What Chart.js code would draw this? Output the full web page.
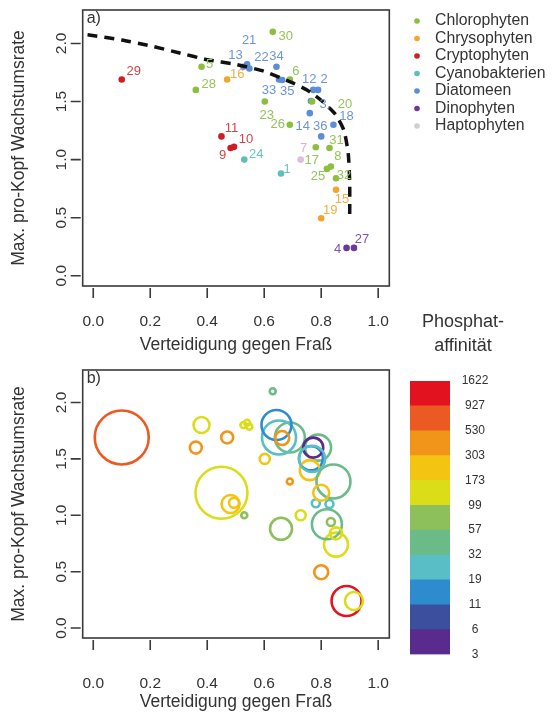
<!DOCTYPE html>
<html><head><meta charset="utf-8">
<script src="https://cdn.jsdelivr.net/npm/chart.js@4/dist/chart.umd.min.js"></script>
<style>
html,body{margin:0;padding:0;background:#fff;width:552px;height:713px;overflow:hidden}
canvas{position:absolute;left:0;top:0}
</style></head><body>
<canvas id="ca" width="552" height="713"></canvas>
<canvas id="cb" width="552" height="713"></canvas>
<canvas id="cc" width="552" height="713"></canvas>
<script>
// ---------- DATA ----------
const artNr = [1,2,3,4,5,6,7,8,9,10,11,12,13,14,15,16,17,18,19,20,21,22,23,24,25,26,27,28,29,30,31,32,33,34,35,36];
const gruppe = ['Cyanobakterien','Diatomeen','Diatomeen','Dinophyten','Chlorophyten','Chlorophyten','Haptophyten','Chlorophyten','Cryptophyten','Cryptophyten',
  'Cryptophyten','Diatomeen','Diatomeen','Diatomeen','Chrysophyten','Chrysophyten','Chlorophyten','Diatomeen','Chrysophyten','Chlorophyten',
  'Diatomeen','Diatomeen','Chlorophyten','Cyanobakterien','Chlorophyten','Chlorophyten','Dinophyten','Chlorophyten','Cryptophyten','Chlorophyten',
  'Chlorophyten','Chlorophyten','Diatomeen','Diatomeen','Diatomeen','Diatomeen'];
const verteidigung = [0.659,0.789,0.764,0.889,0.38,0.69,0.728,0.834,0.482,0.494,0.45,0.772,0.527,0.76,0.852,0.47,0.781,0.843,0.80,0.768,
  0.54,0.548,0.602,0.53,0.82,0.69,0.915,0.36,0.10,0.63,0.829,0.852,0.652,0.643,0.663,0.80];
const wachstumsrate = [0.88,1.60,1.505,0.24,1.80,1.69,1.00,0.94,1.10,1.11,1.20,1.60,1.80,1.40,0.74,1.69,1.107,1.30,0.495,1.50,
  1.82,1.785,1.50,1.00,0.92,1.30,0.24,1.60,1.69,2.10,1.10,0.84,1.69,1.80,1.685,1.20];
const phosphatAffinitaet = [70,45,15,1200,130,45,130,70,230,230,140,4,120,220,150,350,25,45,400,25,
  120,120,220,70,45,400,150,400,700,45,25,150,25,15,400,220];
const relGroesse = [11,13,12,15,8,15,5,4,9,5,26,10,3,10,12,6,4,17,7,13,3,3,5,3,15,3,9,6,27,3,4,6,17,15,7,8];
const gruppenNamen = ['Chlorophyten','Chrysophyten','Cryptophyten','Cyanobakterien','Diatomeen','Dinophyten','Haptophyten'];
const frontX = [-0.02,0.1,0.2,0.3,0.4,0.5,0.6,0.7,0.75,0.8,0.85,0.88,0.895,0.9,0.9];
const frontY = [2.075,2.03,1.98,1.92,1.86,1.82,1.76,1.66,1.60,1.51,1.39,1.25,1.05,0.80,0.50];
const xTicks = [0,0.2,0.4,0.6,0.8,1.0];
const yTicks = [0,0.5,1.0,1.5,2.0];
const farbskalaGrenzen = [3,6,11,19,32,57,99,173,303,530,927,1622];

// ---------- STYLES ----------
const gruppenFarben = ['#8CBF3F','#F2A52C','#CF1D25','#5FBFB8','#5B8ED6','#6A3A97','#DDBEDD'];
const labelFarben = ['#95C45A','#F0AE48','#D0454A','#6CC3BE','#6C97D6','#7A55A5','#D9B4D9'];
const legendFarben = ['#8CBF3F','#F2A52C','#CF1D25','#5FBFB8','#5B8ED6','#6A3A97','#CFCFCF'];
const farbskalaFarben = ['#582B8D','#3C4F9F','#2D8BCE','#59BEC5','#6BBB88','#8DC05B','#DBDD18','#F3C512','#F0951A','#EC5A24','#E2131E'];
const labelVersatz = {1:[6,-4],2:[6,-10],3:[14,3],4:[-9,2],5:[8,-2],6:[6,-8],7:[3,-11],8:[7,-10],9:[-8,7],10:[12,-7],
  11:[10,-8],12:[-4,-10],13:[-8,-11],14:[-7,13],15:[6,10],16:[10,-5],17:[-4,13],18:[13,-8],19:[9,-8],20:[33,3],
  21:[2,-24],22:[12,-11],23:[2,14],24:[12,-5],25:[-9,8],26:[-12,0],27:[8,-8],28:[13,-5],29:[12,-8],30:[13,5],
  31:[7,-8],32:[8,-3],33:[-10,11],34:[0,-10],35:[5,11],36:[-1,-10]};
const labelText = {3:'3,'};
const FONT = '"Liberation Sans", Arial, Helvetica, sans-serif';
const AXIS = '#3a3a3a', TEXT = '#333333';
const xTitel = 'Verteidigung gegen Fraß', yTitel = 'Max. pro-Kopf Wachstumsrate';

function bandFarbe(v){
  for (let i = 0; i < farbskalaGrenzen.length - 1; i++) if (v < farbskalaGrenzen[i+1]) return farbskalaFarben[i];
  return farbskalaFarben[farbskalaFarben.length - 1];
}

function rAchsen(panel, lblOff, titOff){
  return { id: 'rAchsen', afterDraw(chart){
    const {ctx, chartArea:a} = chart; const xs = chart.scales.x, ys = chart.scales.y;
    ctx.save();
    ctx.strokeStyle = AXIS; ctx.lineWidth = 1.6;
    ctx.strokeRect(a.left, a.top, a.right - a.left, a.bottom - a.top);
    ctx.beginPath();
    xTicks.forEach(v => { const p = xs.getPixelForValue(v); ctx.moveTo(p, a.bottom + 2); ctx.lineTo(p, a.bottom + 12); });
    yTicks.forEach(v => { const p = ys.getPixelForValue(v); ctx.moveTo(a.left - 2, p); ctx.lineTo(a.left - 12, p); });
    ctx.stroke();
    ctx.fillStyle = TEXT; ctx.font = '15.5px ' + FONT; ctx.textAlign = 'center'; ctx.textBaseline = 'middle';
    xTicks.forEach(v => ctx.fillText(v.toFixed(1), xs.getPixelForValue(v), a.bottom + lblOff));
    yTicks.forEach(v => { ctx.save(); ctx.translate(a.left - 21, ys.getPixelForValue(v)); ctx.rotate(-Math.PI/2); ctx.fillText(v.toFixed(1), 0, 0); ctx.restore(); });
    ctx.font = '17.5px ' + FONT;
    ctx.fillText(xTitel, (a.left + a.right)/2, a.bottom + titOff);
    ctx.save(); ctx.translate(a.left - 64, (a.top + a.bottom)/2); ctx.rotate(-Math.PI/2); ctx.fillText(yTitel, 0, 0); ctx.restore();
    ctx.textAlign = 'left'; ctx.font = '16px ' + FONT;
    ctx.fillText(panel, a.left + 4, a.top + 9);
    ctx.restore();
  }};
}

const nummernPlugin = { id: 'nummern', afterDatasetsDraw(chart){
  const {ctx} = chart; const xs = chart.scales.x, ys = chart.scales.y;
  ctx.save(); ctx.font = '13px ' + FONT; ctx.textAlign = 'center'; ctx.textBaseline = 'middle';
  artNr.forEach((n, i) => {
    const off = labelVersatz[n] || [8,-6];
    ctx.fillStyle = labelFarben[gruppenNamen.indexOf(gruppe[i])];
    ctx.fillText(labelText[n] || String(n), xs.getPixelForValue(verteidigung[i]) + off[0], ys.getPixelForValue(wachstumsrate[i]) + off[1]);
  });
  ctx.restore();
}};

const legendePlugin = { id: 'legende', afterDraw(chart){
  const {ctx} = chart;
  ctx.save(); ctx.font = '15.8px ' + FONT; ctx.textAlign = 'left'; ctx.textBaseline = 'middle';
  gruppenNamen.forEach((g, i) => {
    const y = 21 + 17.5 * i;
    ctx.fillStyle = legendFarben[i]; ctx.beginPath(); ctx.arc(417, y, 2.8, 0, Math.PI*2); ctx.fill();
    ctx.fillStyle = TEXT; ctx.fillText(g, 435, y);
  });
  ctx.restore();
}};

const W = 552, H = 713;
const skalen = { x: {type:'linear', display:false, min:-0.037, max:1.039}, y: {type:'linear', display:false, min:-0.088, max:2.288} };
const gemeinsam = { responsive:false, animation:false, devicePixelRatio:1, events:[], plugins:{legend:{display:false}, tooltip:{enabled:false}} };

// ---------- PANEL A ----------
const dsA = [{
  type:'scatter', data: frontX.map((x,i)=>({x, y: frontY[i]})), showLine:true, borderColor:'#111', borderWidth:3.5,
  borderDash:[10,7], pointRadius:0, tension:0.2, fill:false, order:0
}];
gruppenNamen.forEach((g, gi) => {
  const pts = []; artNr.forEach((n,i) => { if (gruppe[i] === g) pts.push({x: verteidigung[i], y: wachstumsrate[i]}); });
  dsA.push({ type:'scatter', data: pts, pointRadius:3.3, pointBackgroundColor: gruppenFarben[gi], pointBorderWidth:0, showLine:false, order:1 });
});
new Chart(document.getElementById('ca'), {
  type:'scatter', data:{datasets: dsA},
  options: Object.assign({}, gemeinsam, { scales: skalen, layout:{padding:{left:82.7, right:W-389.3, top:10, bottom:H-286}} }),
  plugins:[rAchsen('a)', 36, 59), nummernPlugin, legendePlugin]
});

// ---------- PANEL B ----------
new Chart(document.getElementById('cb'), {
  type:'bubble',
  data:{datasets:[{ data: artNr.map((n,i)=>({x: verteidigung[i], y: wachstumsrate[i], r: relGroesse[i]})),
    backgroundColor:'rgba(0,0,0,0)', borderColor: phosphatAffinitaet.map(bandFarbe), borderWidth:2.6 }]},
  options: Object.assign({}, gemeinsam, { scales: skalen, layout:{padding:{left:82.7, right:W-389.3, top:370, bottom:H-638}} }),
  plugins:[rAchsen('b)', 46, 64)]
});

// ---------- FARBSKALA ----------
const baender = farbskalaFarben.map((c, i) => ({ label: farbskalaGrenzen[i] + '-' + farbskalaGrenzen[i+1], data:[1], backgroundColor:c,
  borderWidth:0, barPercentage:1, categoryPercentage:1, stack:'s' }));
new Chart(document.getElementById('cc'), {
  type:'bar', data:{labels:['Phosphat'], datasets: baender},
  options: Object.assign({}, gemeinsam, {
    scales:{ x:{display:false, stacked:true}, y:{display:false, stacked:true, min:0, max:farbskalaGrenzen.length - 1} },
    layout:{padding:{left:410, right:W-450, top:381, bottom:H-654.5}} }),
  plugins:[{ id:'skalaText', afterDraw(chart){
    const {ctx} = chart; const ys = chart.scales.y;
    ctx.save(); ctx.fillStyle = TEXT; ctx.textBaseline = 'middle';
    ctx.font = '12px ' + FONT; ctx.textAlign = 'center';
    farbskalaGrenzen.forEach((g, i) => ctx.fillText(String(g), 475, ys.getPixelForValue(i)));
    ctx.font = '18px ' + FONT; ctx.textAlign = 'center';
    ctx.fillText('Phosphat-', 463, 322); ctx.fillText('affinität', 463, 346);
    ctx.restore();
  }}]
});
</script>
</body></html>
